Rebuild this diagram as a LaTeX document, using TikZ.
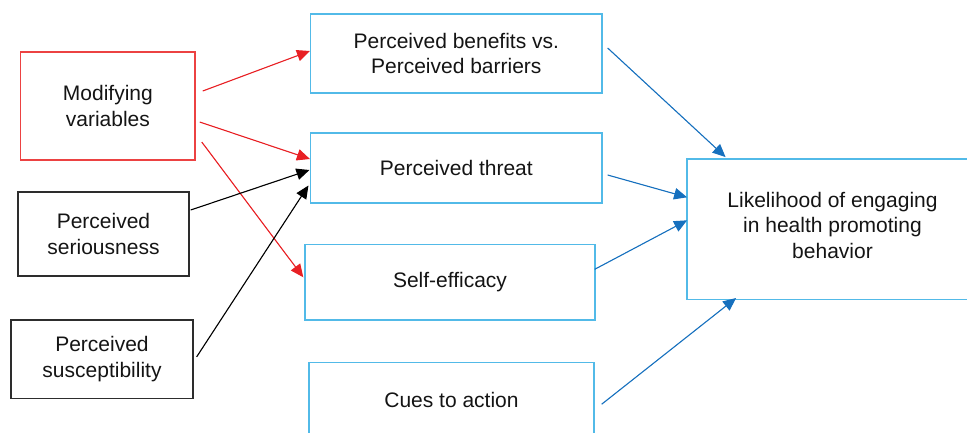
\documentclass[tikz,border=0pt]{standalone}
\usepackage{fontspec}
\setmainfont{Liberation Sans}
\usetikzlibrary{arrows.meta,calc}
\definecolor{boxred}{RGB}{236,66,66}
\definecolor{arrred}{RGB}{232,32,36}
\definecolor{boxblue}{RGB}{82,186,232}
\definecolor{arrblue}{RGB}{22,112,190}
\definecolor{boxgray}{RGB}{45,45,45}
\tikzset{
  txt/.style={align=center, inner sep=0pt,
    font=\fontsize{21}{25.5}\selectfont, text=black!92},
  box/.style={txt, draw, line width=1.4pt, rectangle},
  redbox/.style={box, draw=boxred},
  graybox/.style={box, draw=boxgray},
  bluebox/.style={box, draw=boxblue},
  outline/.style={draw=boxblue, line width=1.4pt},
  arr/.style={line width=1.1pt, -{Triangle[length=13pt,width=11.5pt]}},
  redarr/.style={arr, draw=arrred, fill=arrred},
  blkarr/.style={arr, draw=black, fill=black},
  bluarr/.style={arr, draw=arrblue, fill=arrblue}
}
\begin{document}
\begin{tikzpicture}[x=1pt,y=-1pt]
\useasboundingbox (0,0) rectangle (967,432);
\clip (0,0) rectangle (967,432);
\node[redbox, minimum width=174.3pt, minimum height=108pt] (mod) at (107.9,106) {Modifying\\variables};
\node[graybox, minimum width=171pt, minimum height=84pt] (ser) at (103.5,234) {Perceived\\seriousness};
\node[graybox, minimum width=182pt, minimum height=78.7pt] (sus) at (102,359.3) {Perceived\\susceptibility};
\node[bluebox, minimum width=291.3pt, minimum height=79pt] (ben) at (456.3,53.5) {Perceived benefits vs.\\Perceived barriers};
\node[bluebox, minimum width=291.3pt, minimum height=70pt] (thr) at (456.3,168) {Perceived threat};
\node[bluebox, minimum width=290pt, minimum height=75.3pt] (sel) at (450,282.3) {Self-efficacy};
\node[bluebox, minimum width=285pt, minimum height=75pt] (cue) at (451.5,400.2) {Cues to action};
% likelihood box: open to the right (runs past the edge of the picture)
\node[txt, minimum width=290.4pt, minimum height=140pt] (lik) at (832.5,229.3) {};
\node[txt] (likt) at ($(lik.center)+(0,-4)$) {Likelihood of engaging\\in health promoting\\behavior};
\draw[outline] ($(lik.north east)+(30,0)$) -- (lik.north west) -- (lik.south west) -- ($(lik.south east)+(30,0)$);
% start points
\coordinate (r1) at ($(mod.east)+(7,-15)$);
\coordinate (r2) at ($(mod.east)+(4,16)$);
\coordinate (r3) at ($(mod.east)+(6,36)$);
\coordinate (k1) at ($(ser.east)+(1,-24)$);
\coordinate (k2) at ($(sus.east)+(3,-2.5)$);
\coordinate (u1) at ($(ben.east)+(5,-5.5)$);
\coordinate (u2) at ($(thr.east)+(5,7)$);
\coordinate (u3) at ($(sel.east)+(-1,-13)$);
\coordinate (u4) at ($(cue.east)+(7,4)$);
% red arrows
\draw[redarr] (r1) -- ($(ben.west)+(0,-2.5)$);
\draw[redarr] (r2) -- ($(thr.west)+(0,-9)$);
\draw[redarr] (r3) -- ($(sel.west)+(-1,-5)$);
% black arrows
\draw[blkarr] (k1) -- ($(thr.west)+(-0.5,2)$);
\draw[blkarr] (k2) -- ($(thr.west)+(-1.5,17.5)$);
% blue arrows
\draw[bluarr] (u1) -- ($(lik.north west)+(38.5,-2)$);
\draw[bluarr] (u2) -- ($(lik.west)+(0,-32)$);
\draw[bluarr] (u3) -- ($(lik.west)+(0,-9)$);
\draw[bluarr] (u4) -- ($(lik.south west)+(49,-1.5)$);
\end{tikzpicture}
\end{document}
